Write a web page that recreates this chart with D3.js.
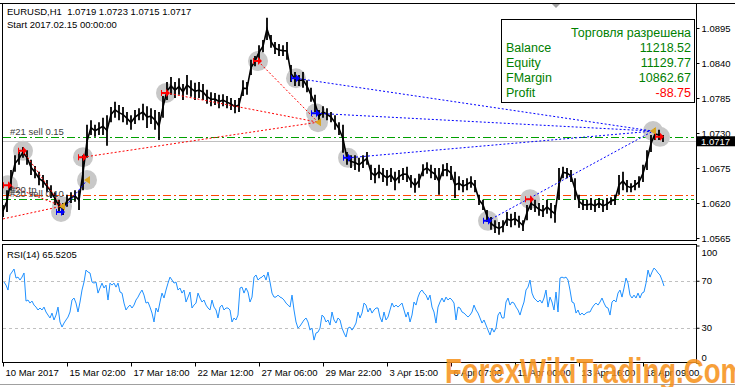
<!DOCTYPE html>
<html>
<head>
    <meta charset="utf-8" />
    <title>EURUSD,H1</title>
    <style>
        body { margin: 0; background: #fff; }
        svg text { font-family: "Liberation Sans", Arial, sans-serif; }
    </style>
</head>
<body>
<script src="https://d3js.org/d3.v7.min.js"></script>
<script>

    // price samples, one every 4 hourly bars (bar 0 = left edge)
    var barStep = 4;
    var priceHigh = [
        1.0617, 1.0640, 1.0672, 1.0695, 1.0700, 1.0708, 1.0703, 1.0688, 1.0678, 1.0669,
        1.0664, 1.0656, 1.0648, 1.0637, 1.0625, 1.0620, 1.0633, 1.0637, 1.0640, 1.0640,
        1.0695, 1.0743, 1.0750, 1.0743, 1.0747, 1.0754, 1.0758, 1.0771, 1.0779, 1.0774,
        1.0771, 1.0763, 1.0758, 1.0766, 1.0769, 1.0776, 1.0772, 1.0769, 1.0766, 1.0763,
        1.0788, 1.0810, 1.0818, 1.0810, 1.0816, 1.0807, 1.0821, 1.0813, 1.0809, 1.0810,
        1.0807, 1.0798, 1.0794, 1.0793, 1.0790, 1.0791, 1.0788, 1.0785, 1.0782, 1.0785,
        1.0813, 1.0810, 1.0845, 1.0851, 1.0868, 1.0876, 1.0911, 1.0884, 1.0873, 1.0870,
        1.0868, 1.0873, 1.0837, 1.0826, 1.0821, 1.0826, 1.0813, 1.0801, 1.0790, 1.0766,
        1.0772, 1.0769, 1.0763, 1.0758, 1.0747, 1.0743, 1.0700, 1.0695, 1.0695, 1.0691,
        1.0695, 1.0700, 1.0680, 1.0675, 1.0680, 1.0675, 1.0672, 1.0675, 1.0669, 1.0672,
        1.0675, 1.0677, 1.0664, 1.0659, 1.0666, 1.0681, 1.0684, 1.0680, 1.0675, 1.0675,
        1.0681, 1.0683, 1.0678, 1.0669, 1.0662, 1.0656, 1.0659, 1.0662, 1.0656, 1.0633,
        1.0625, 1.0609, 1.0598, 1.0593, 1.0590, 1.0593, 1.0606, 1.0603, 1.0606, 1.0600,
        1.0593, 1.0617, 1.0629, 1.0625, 1.0620, 1.0617, 1.0625, 1.0620, 1.0617, 1.0675,
        1.0677, 1.0675, 1.0672, 1.0659, 1.0633, 1.0625, 1.0625, 1.0628, 1.0625, 1.0628,
        1.0625, 1.0628, 1.0629, 1.0633, 1.0664, 1.0669, 1.0656, 1.0651, 1.0656, 1.0662,
        1.0680, 1.0703, 1.0727, 1.0738, 1.0735, 1.0727
    ];
    var priceLow = [
        1.0598, 1.0606, 1.0640, 1.0669, 1.0680, 1.0691, 1.0680, 1.0664, 1.0659, 1.0648,
        1.0644, 1.0637, 1.0628, 1.0617, 1.0606, 1.0601, 1.0614, 1.0620, 1.0622, 1.0609,
        1.0640, 1.0691, 1.0727, 1.0724, 1.0727, 1.0727, 1.0710, 1.0747, 1.0754, 1.0750,
        1.0747, 1.0743, 1.0735, 1.0744, 1.0750, 1.0750, 1.0738, 1.0744, 1.0735, 1.0719,
        1.0754, 1.0782, 1.0790, 1.0785, 1.0790, 1.0782, 1.0790, 1.0787, 1.0782, 1.0785,
        1.0782, 1.0776, 1.0772, 1.0774, 1.0769, 1.0772, 1.0769, 1.0766, 1.0761, 1.0763,
        1.0788, 1.0790, 1.0821, 1.0835, 1.0845, 1.0857, 1.0876, 1.0864, 1.0854, 1.0851,
        1.0851, 1.0845, 1.0810, 1.0804, 1.0804, 1.0801, 1.0794, 1.0779, 1.0763, 1.0747,
        1.0754, 1.0750, 1.0747, 1.0735, 1.0727, 1.0699, 1.0680, 1.0675, 1.0672, 1.0669,
        1.0675, 1.0680, 1.0656, 1.0651, 1.0659, 1.0653, 1.0647, 1.0653, 1.0640, 1.0651,
        1.0656, 1.0653, 1.0644, 1.0636, 1.0644, 1.0662, 1.0666, 1.0659, 1.0656, 1.0633,
        1.0662, 1.0662, 1.0656, 1.0628, 1.0640, 1.0637, 1.0640, 1.0644, 1.0637, 1.0617,
        1.0609, 1.0590, 1.0578, 1.0573, 1.0570, 1.0574, 1.0584, 1.0582, 1.0585, 1.0581,
        1.0576, 1.0593, 1.0609, 1.0606, 1.0600, 1.0598, 1.0603, 1.0596, 1.0589, 1.0625,
        1.0659, 1.0659, 1.0653, 1.0625, 1.0612, 1.0609, 1.0609, 1.0609, 1.0606, 1.0612,
        1.0606, 1.0609, 1.0617, 1.0617, 1.0633, 1.0640, 1.0637, 1.0637, 1.0640, 1.0644,
        1.0653, 1.0672, 1.0700, 1.0719, 1.0719, 1.0716
    ];

    // RSI(14), one value every 2 bars starting at bar 1
    var rsiStart = 1;
    var rsiStep = 2;
    var rsiValues = [
        68.9, 66.3, 62.1, 75.0, 77.4, 80.0, 72.3, 73.1, 70.6, 73.1,
        76.6, 52.7, 53.6, 51.0, 52.7, 49.3, 47.6, 45.1, 46.8, 45.1,
        47.6, 43.4, 40.8, 38.3, 42.5, 36.6, 40.8, 47.6, 34.9, 30.6,
        34.0, 36.6, 39.1, 43.4, 53.6, 55.3, 51.0, 43.4, 51.9, 62.1,
        68.9, 79.1, 77.4, 76.6, 68.9, 68.0, 68.9, 59.5, 63.8, 68.0,
        63.8, 66.3, 53.6, 68.0, 66.3, 68.0, 64.6, 68.0, 60.4, 59.5,
        51.0, 45.1, 47.6, 49.3, 46.8, 49.3, 53.6, 56.1, 59.5, 62.1,
        57.8, 51.0, 51.9, 47.6, 42.5, 34.9, 46.8, 43.4, 51.9, 59.5,
        55.3, 62.1, 68.0, 73.1, 70.6, 68.0, 68.9, 62.1, 63.8, 59.5,
        62.1, 51.9, 56.1, 60.4, 46.8, 49.3, 51.0, 59.5, 55.3, 51.9,
        53.6, 49.3, 46.8, 45.1, 53.6, 47.6, 45.1, 38.3, 47.6, 49.3,
        45.1, 46.8, 46.8, 45.1, 34.9, 38.3, 36.6, 40.8, 63.8, 64.6,
        59.5, 63.8, 60.4, 51.9, 56.1, 73.1, 74.9, 70.6, 72.3, 73.1,
        74.9, 70.6, 77.4, 68.9, 59.5, 56.1, 56.1, 57.8, 56.1, 55.3,
        53.6, 51.0, 49.3, 47.6, 57.8, 45.1, 34.9, 29.7, 31.4, 34.0,
        36.6, 38.3, 34.9, 28.0, 29.7, 19.5, 25.5, 26.3, 29.7, 40.8,
        39.1, 34.9, 36.6, 32.3, 43.4, 36.6, 34.0, 38.3, 36.6, 29.7,
        25.5, 22.1, 29.7, 30.6, 28.0, 30.6, 34.0, 43.4, 38.3, 42.5,
        51.0, 49.3, 43.4, 46.8, 42.5, 45.1, 46.8, 46.8, 39.1, 34.9,
        43.4, 36.6, 39.1, 45.1, 51.0, 47.6, 49.3, 47.6, 49.3, 51.0,
        45.1, 39.1, 43.4, 34.9, 40.8, 51.9, 49.3, 56.1, 60.4, 62.1,
        59.5, 57.8, 53.6, 57.8, 47.6, 43.4, 34.0, 47.6, 51.9, 55.3,
        51.9, 56.1, 53.6, 55.3, 53.6, 51.0, 36.6, 47.6, 46.8, 43.4,
        42.5, 40.8, 39.1, 40.8, 43.4, 49.3, 45.1, 42.5, 38.3, 34.0,
        36.6, 32.3, 28.0, 23.8, 29.7, 26.3, 29.7, 40.8, 43.4, 38.3,
        38.3, 51.9, 55.3, 49.3, 51.9, 51.0, 47.6, 45.1, 40.8, 46.8,
        51.9, 62.1, 64.6, 70.6, 59.5, 55.3, 53.6, 51.9, 53.6, 51.0,
        55.3, 62.1, 47.6, 56.1, 51.9, 45.1, 60.4, 43.4, 72.3, 73.1,
        72.3, 73.1, 70.6, 62.1, 51.9, 51.0, 42.5, 45.1, 40.8, 42.5,
        40.8, 42.5, 43.4, 43.4, 46.8, 49.3, 51.0, 49.3, 51.9, 55.3,
        51.0, 47.6, 46.8, 40.8, 51.9, 53.6, 51.9, 59.5, 62.1, 56.1,
        63.8, 72.3, 68.0, 57.8, 55.3, 57.8, 55.3, 59.5, 55.3, 59.5,
        60.4, 68.0, 79.1, 73.1, 77.4, 80.8, 79.1, 76.6, 74.9, 70.6,
        65.5
    ];

    var priceTicks = [1.0565, 1.0620, 1.0675, 1.0730, 1.0785, 1.0840, 1.0895];
    var rsiTicks = [0, 30, 70, 100];
    var rsiLevels = [30, 70];
    var timeTickBars = [0, 64, 128, 192, 256, 320, 384, 448, 512, 576, 640];
    var timeLabels = ["10 Mar 2017", "15 Mar 02:00", "17 Mar 18:00", "22 Mar 12:00", "27 Mar 06:00",
                      "29 Mar 22:00", "3 Apr 15:00", "6 Apr 07:00", "11 Apr 00:00", "13 Apr 16:00", "18 Apr 09:00"];

    var bidPrice = 1.0717;
    var orderPrices = [1.0723, 1.0632, 1.0626];
    var orderLabels = ["#21 sell 0.15", "#20 tp", "#20 sell 0.10"];
    var orderKinds = ["entry", "tp", "entry"];

    // trade arrows: bar index, price, kind
    var markBars = [5, 20, 58, 59, 80, 84, 163, 255, 293, 313, 315, 345, 485, 527, 650, 657];
    var markPrices = [1.0648, 1.0702, 1.0606, 1.0615, 1.0692, 1.0656, 1.0793, 1.0843, 1.0816,
                      1.0761, 1.0747, 1.0691, 1.0592, 1.0626, 1.0733, 1.0724];
    var markKinds = ["sell", "sell", "buy", "close", "sell", "close", "sell", "sell", "buy",
                     "buy", "close", "buy", "buy", "sell", "close", "sell"];

    // closed trades (dotted lines open -> close)
    var tradeOpenBar = [0, 5, 20, 58, 80, 163, 255, 293, 313, 345, 485];
    var tradeOpenPrice = [1.0595, 1.0648, 1.0702, 1.0606, 1.0692, 1.0793, 1.0843, 1.0816, 1.0761, 1.0691, 1.0592];
    var tradeCloseBar = [59, 59, 59, 84, 315, 315, 315, 650, 650, 650, 650];
    var tradeClosePrice = [1.0615, 1.0615, 1.0615, 1.0656, 1.0747, 1.0747, 1.0747, 1.0733, 1.0733, 1.0733, 1.0733];
    var tradeSide = ["sell", "sell", "sell", "buy", "sell", "sell", "sell", "buy", "buy", "buy", "buy"];

    var infoTitle = "Торговля разрешена";
    var infoNames = ["Balance", "Equity", "FMargin", "Profit"];
    var infoValues = ["11218.52", "11129.77", "10862.67", "-88.75"];

    var width = 735;
    var height = 387;
    var mainBox = {"left": 2.5, "right": 696.5, "top": 3.5, "bottom": 240.5};
    var rsiBox = {"left": 2.5, "right": 696.5, "top": 244.5, "bottom": 362.5};
    var green = "#008000";

    var svg = d3.select("body").append("svg")
                .attr("width", width)
                .attr("height", height);

    var x = d3.scaleLinear().domain([0, 693]).range([3, 696]);
    var yP = d3.scaleLinear().domain([1.0565, 1.0895]).range([238, 28]);
    var yR = d3.scaleLinear().domain([0, 100]).range([363, 245.5]);

    var defs = svg.append("defs");
    defs.append("clipPath").attr("id", "clipMain")
        .append("rect").attr("x", 3).attr("y", 4).attr("width", 693).attr("height", 236);
    defs.append("clipPath").attr("id", "clipRsi")
        .append("rect").attr("x", 3).attr("y", 245).attr("width", 693).attr("height", 117);

    // frames
    svg.append("line").attr("x1", 0).attr("x2", width).attr("y1", 3.5).attr("y2", 3.5)
       .attr("stroke", "#000");
    [mainBox, rsiBox].forEach(function(b){
        svg.append("rect")
           .attr("x", b.left).attr("y", b.top)
           .attr("width", b.right - b.left).attr("height", b.bottom - b.top)
           .attr("fill", "none").attr("stroke", "#000");
    });
    svg.append("line").attr("x1", 0).attr("x2", width).attr("y1", 384.5).attr("y2", 384.5)
       .attr("stroke", "#a0a0a0");

    var main = svg.append("g").attr("clip-path", "url(#clipMain)");

    // bid line
    main.append("line")
        .attr("x1", 3).attr("x2", 696)
        .attr("y1", Math.round(yP(bidPrice)) + 0.5).attr("y2", Math.round(yP(bidPrice)) + 0.5)
        .attr("stroke", "#c0c0c0");

    // order lines
    orderPrices.forEach(function(p, k){
        var yy = Math.round(yP(p)) + 0.5;
        main.append("line")
            .attr("x1", 3).attr("x2", 694)
            .attr("y1", yy).attr("y2", yy)
            .attr("stroke", orderKinds[k] == "tp" ? "#ff4500" : "#00a000")
            .attr("stroke-dasharray", "8,3,2,3");
    });

    // grey circles behind trade arrows
    main.selectAll("circle.mark")
        .data(markBars)
        .enter()
        .append("circle")
        .attr("cx", (d, k) => x(d))
        .attr("cy", (d, k) => yP(markPrices[k]))
        .attr("r", 10)
        .attr("fill", "#c8c8c8");

    // price bars: high-low sticks joined through their middles
    var midLine = d3.line()
                    .x((d, k) => x(k * barStep))
                    .y((d, k) => yP((d + priceLow[k]) / 2));
    main.append("path")
        .datum(priceHigh)
        .attr("d", midLine)
        .attr("fill", "none")
        .attr("stroke", "#000")
        .attr("stroke-width", 1.6);
    main.selectAll("line.bar")
        .data(priceHigh)
        .enter()
        .append("line")
        .attr("x1", (d, k) => x(k * barStep))
        .attr("x2", (d, k) => x(k * barStep))
        .attr("y1", d => yP(d))
        .attr("y2", (d, k) => yP(priceLow[k]))
        .attr("stroke", "#000")
        .attr("stroke-width", 1.8);

    // trade history lines
    tradeOpenBar.forEach(function(b, k){
        main.append("line")
            .attr("x1", x(b)).attr("y1", yP(tradeOpenPrice[k]))
            .attr("x2", x(tradeCloseBar[k])).attr("y2", yP(tradeClosePrice[k]))
            .attr("stroke", tradeSide[k] == "buy" ? "#0000ff" : "#ff0000")
            .attr("stroke-dasharray", "2,2");
    });

    // trade arrows
    var arrowPath = "M-5,-3L-4,-3L-4,-1L0,-1L0,-4L4,0L0,4L0,1L-4,1L-4,3L-5,3Z";
    var closePath = "M3,-4L-3,0L3,4Z";
    markBars.forEach(function(b, k){
        var kind = markKinds[k];
        main.append("path")
            .attr("d", kind == "close" ? closePath : arrowPath)
            .attr("transform", "translate(" + x(b) + "," + yP(markPrices[k]) + ")")
            .attr("fill", kind == "close" ? "#daa520" : (kind == "buy" ? "#0000ff" : "#ff0000"));
    });

    // order labels
    orderPrices.forEach(function(p, k){
        main.append("text")
            .attr("x", 10)
            .attr("y", Math.round(yP(p)) - 2)
            .attr("font-size", "9.5px")
            .attr("fill", "#404040")
            .text(orderLabels[k]);
    });

    // header
    svg.append("text").attr("x", 7).attr("y", 15).attr("font-size", "9.5px")
       .text("EURUSD,H1  1.0719 1.0723 1.0715 1.0717").attr("xml:space", "preserve");
    svg.append("text").attr("x", 7).attr("y", 28).attr("font-size", "9.5px")
       .text("Start 2017.02.15 00:00:00");

    // shift marker
    svg.append("path").attr("d", "M552,4L560,4L556,8Z").attr("fill", "#a0a0a0");

    // info panel
    var info = svg.append("g");
    info.append("rect")
        .attr("x", 501.5).attr("y", 19.5).attr("width", 193).attr("height", 83)
        .attr("fill", "#fff").attr("stroke", "#000");
    info.append("text").attr("x", 691).attr("y", 37).attr("text-anchor", "end")
        .attr("font-size", "12.5px").attr("fill", green).text(infoTitle);
    infoNames.forEach(function(n, k){
        info.append("text").attr("x", 506).attr("y", 52 + 15 * k)
            .attr("font-size", "12.5px").attr("fill", green).text(n);
        info.append("text").attr("x", 691).attr("y", 52 + 15 * k).attr("text-anchor", "end")
            .attr("font-size", "12.5px")
            .attr("fill", infoValues[k].charAt(0) == "-" ? "#ff0000" : green)
            .text(infoValues[k]);
    });

    // price scale
    var pAxis = svg.append("g")
                   .attr("transform", "translate(696.5,0)")
                   .call(d3.axisRight(yP).tickValues(priceTicks).tickSize(3).tickPadding(2)
                          .tickFormat(d3.format(".4f")));
    pAxis.select(".domain").remove();
    pAxis.selectAll("text").attr("font-size", "9.5px").attr("font-family", "Liberation Sans, Arial, sans-serif");

    // bid price box
    svg.append("rect").attr("x", 697).attr("y", yP(bidPrice) - 5).attr("width", 38).attr("height", 10)
       .attr("fill", "#000");
    svg.append("text").attr("x", 701).attr("y", yP(bidPrice) + 4).attr("font-size", "9.5px")
       .attr("fill", "#fff").text(d3.format(".4f")(bidPrice));

    // RSI panel
    var rsiG = svg.append("g").attr("clip-path", "url(#clipRsi)");
    rsiLevels.forEach(function(v){
        rsiG.append("line")
            .attr("x1", 3).attr("x2", 696)
            .attr("y1", Math.round(yR(v)) + 0.5).attr("y2", Math.round(yR(v)) + 0.5)
            .attr("stroke", "#c0c0c0")
            .attr("stroke-dasharray", "3,3");
    });
    rsiG.append("path")
        .datum(rsiValues)
        .attr("d", d3.line().x((d, k) => x(rsiStart + k * rsiStep)).y(d => yR(d)))
        .attr("fill", "none")
        .attr("stroke", "#1e90ff")
        .attr("stroke-width", 1);

    svg.append("text").attr("x", 7).attr("y", 258).attr("font-size", "9.5px")
       .text("RSI(14) " + "65.5205");

    var rAxis = svg.append("g")
                   .attr("transform", "translate(696.5,0)")
                   .call(d3.axisRight(yR).tickValues(rsiTicks).tickSize(3).tickPadding(2));
    rAxis.select(".domain").remove();
    rAxis.selectAll("text").attr("font-size", "9.5px").attr("font-family", "Liberation Sans, Arial, sans-serif")
         .attr("dy", d => d == 100 ? "1.1em" : (d == 0 ? "-0.3em" : "0.32em"));

    // time scale
    var tAxis = svg.append("g")
                   .attr("transform", "translate(0,362.5)")
                   .call(d3.axisBottom(x).tickValues(timeTickBars).tickSize(4).tickPadding(3)
                          .tickFormat((d, k) => timeLabels[k]));
    tAxis.select(".domain").remove();
    tAxis.selectAll("text").attr("font-size", "9.5px").attr("font-family", "Liberation Sans, Arial, sans-serif")
         .attr("text-anchor", "start").attr("dx", 2);

    // watermark
    svg.append("text")
       .attr("x", 445).attr("y", 383)
       .attr("font-size", "35px").attr("font-weight", "bold")
       .attr("textLength", 300).attr("lengthAdjust", "spacingAndGlyphs")
       .attr("fill", "#f7931e").attr("opacity", 0.88)
       .text("ForexWikiTrading.Com");

</script>
</body>
</html>
